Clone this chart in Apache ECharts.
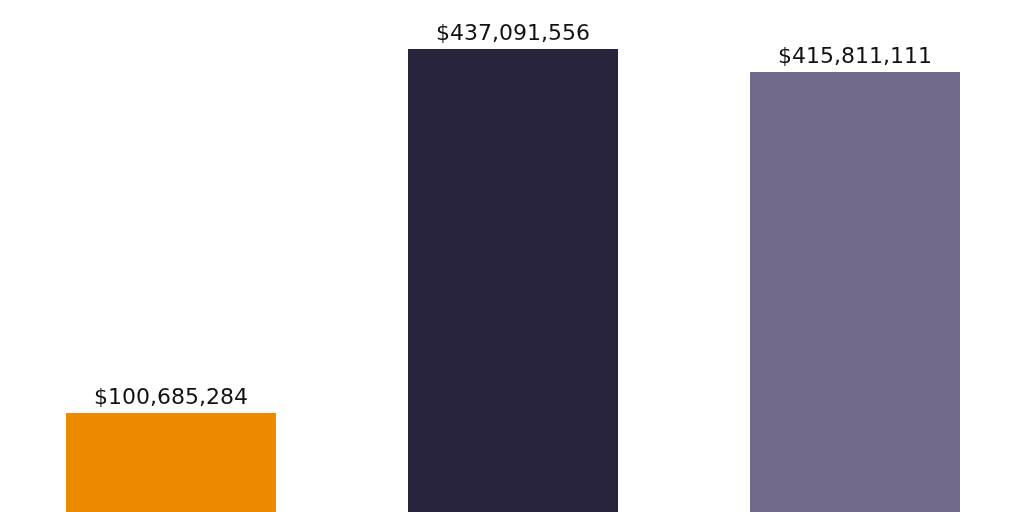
<!DOCTYPE html>
<html><head><meta charset="utf-8">
<script src="https://cdn.jsdelivr.net/npm/echarts@6/dist/echarts.min.js"></script>
<style>html,body{margin:0;padding:0;background:#fff}#c{width:1024px;height:512px}</style>
</head><body><div id="c"></div>
<script>
const categories = ['A', 'B', 'C'];
const values = [100685284, 437091556, 415811111];
const colors = ['#EC8B00', '#29243D', '#716A8A'];

const chart = echarts.init(document.getElementById('c'));
chart.setOption({
  animation: false,
  grid: { left: 0, top: 0, bottom: 0, width: 1026, outerBoundsMode: 'none', containLabel: false },
  xAxis: { type: 'category', data: categories, show: false },
  yAxis: { type: 'value', min: 9240000, max: 482300000, show: false },
  series: [{
    type: 'bar',
    barWidth: 210,
    data: values.map((v, i) => ({ value: v, itemStyle: { color: colors[i] } })),
    label: {
      show: true, position: 'top', distance: 4,
      fontFamily: 'DejaVu Sans', fontSize: 22, color: '#111',
      formatter: p => '$' + p.value.toLocaleString('en-US')
    }
  }]
});
</script></body></html>
